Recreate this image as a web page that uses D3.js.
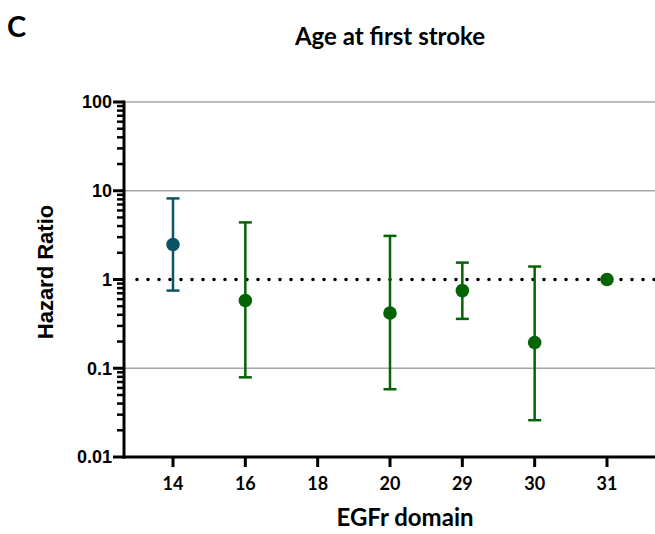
<!DOCTYPE html>
<html><head><meta charset="utf-8">
<script src="https://cdn.jsdelivr.net/npm/d3@7"></script>
<style>body{margin:0;background:#fff}svg{display:block}</style>
</head><body>
<svg id="c" width="655" height="534"></svg>
<script>
const categories = ["14","16","18","20","29","30","31"];
const hr    = [2.48, 0.58, null, 0.42, 0.75, 0.195, 1.0];
const lower = [0.75, 0.079, null, 0.058, 0.36, 0.026, null];
const upper = [8.2, 4.4, null, 3.1, 1.55, 1.4, null];
const colors = ["#0b5468","#046404","#046404","#046404","#046404","#046404","#046404"];
const yTicks = [0.01, 0.1, 1, 10, 100];
const yTickLabels = ["0.01","0.1","1","10","100"];

const svg = d3.select("#c");
const pLeft = 124, pRight = 655, pTop = 102, pBottom = 457;
const x = d3.scalePoint().domain(categories).range([173, 607]);
const y = d3.scaleLog().domain([0.01, 100]).range([pBottom, pTop]);
const arial = "'Liberation Sans', Arial, sans-serif";
const calib = "Lato, 'Open Sans', sans-serif";

// gridlines
svg.append("g").selectAll("line").data([0.1, 10, 100]).join("line")
  .attr("x1", pLeft).attr("x2", pRight).attr("y1", d => y(d)).attr("y2", d => y(d))
  .attr("stroke", "#a6a6a6").attr("stroke-width", 1.3);

// reference line at 1
svg.append("line").attr("x1", 137).attr("x2", pRight).attr("y1", y(1)).attr("y2", y(1))
  .attr("stroke", "#000").attr("stroke-width", 3.6).attr("stroke-linecap", "round")
  .attr("stroke-dasharray", "0 11");

// y axis
const minor = [];
for (let e = -2; e < 2; e++) for (let m = 2; m <= 9; m++) minor.push(m * Math.pow(10, e));
const ya = svg.append("g");
ya.selectAll("line.minor").data(minor).join("line").attr("class","minor")
  .attr("x1", pLeft - 7).attr("x2", pLeft).attr("y1", d => y(d)).attr("y2", d => y(d))
  .attr("stroke", "#000").attr("stroke-width", 2.5);
ya.selectAll("line.major").data(yTicks).join("line").attr("class","major")
  .attr("x1", pLeft - 11).attr("x2", pLeft).attr("y1", d => y(d)).attr("y2", d => y(d))
  .attr("stroke", "#000").attr("stroke-width", 3);
ya.append("line").attr("x1", pLeft).attr("x2", pLeft).attr("y1", pTop - 1.5).attr("y2", pBottom + 1.5)
  .attr("stroke", "#000").attr("stroke-width", 3);
ya.selectAll("text").data(yTicks).join("text")
  .attr("x", pLeft - 12).attr("y", d => y(d)).attr("dy", "0.36em").attr("text-anchor", "end")
  .style("font-family", arial).attr("font-weight", "bold")
  .attr("font-size", 18).text((d, i) => yTickLabels[i]);

// x axis
const xa = svg.append("g");
xa.append("line").attr("x1", pLeft - 1.5).attr("x2", pRight).attr("y1", pBottom).attr("y2", pBottom)
  .attr("stroke", "#000").attr("stroke-width", 3);
xa.selectAll("line.t").data(categories).join("line").attr("class","t")
  .attr("x1", d => x(d)).attr("x2", d => x(d)).attr("y1", pBottom).attr("y2", pBottom + 10)
  .attr("stroke", "#000").attr("stroke-width", 3);
xa.selectAll("text").data(categories).join("text")
  .attr("x", d => x(d)).attr("y", 490).attr("text-anchor", "middle")
  .style("font-family", calib).attr("font-weight", "bold")
  .attr("font-size", 18).text(d => d);

// error bars and points
const data = categories.map((c, i) => ({c, v: hr[i], lo: lower[i], hi: upper[i], col: colors[i]}));
const g = svg.append("g");
data.filter(d => d.lo != null).forEach(d => {
  const cx = x(d.c);
  g.append("line").attr("x1", cx).attr("x2", cx).attr("y1", y(d.lo)).attr("y2", y(d.hi))
    .attr("stroke", d.col).attr("stroke-width", 2.5);
  [d.lo, d.hi].forEach(v => g.append("line").attr("x1", cx - 6.5).attr("x2", cx + 6.5)
    .attr("y1", y(v)).attr("y2", y(v)).attr("stroke", d.col).attr("stroke-width", 2.5));
});
g.selectAll("circle").data(data.filter(d => d.v != null)).join("circle")
  .attr("cx", d => x(d.c)).attr("cy", d => y(d.v)).attr("r", 6.8).attr("fill", d => d.col);

// titles
svg.append("text").attr("x", 7).attr("y", 37).style("font-family", calib)
  .attr("font-weight", "bold").attr("font-size", 29).text("C");
svg.append("text").attr("x", 390).attr("y", 45).attr("text-anchor", "middle")
  .style("font-family", calib).attr("font-weight", "bold")
  .attr("font-size", 24).text("Age at first stroke");
svg.append("text").attr("x", 405).attr("y", 526).attr("text-anchor", "middle")
  .style("font-family", calib).attr("font-weight", "bold")
  .attr("font-size", 24).text("EGFr domain");
svg.append("text").attr("transform", "translate(53,272) rotate(-90)").attr("text-anchor", "middle")
  .style("font-family", arial).attr("font-weight", "bold")
  .attr("font-size", 22).text("Hazard Ratio");
</script>
</body></html>
